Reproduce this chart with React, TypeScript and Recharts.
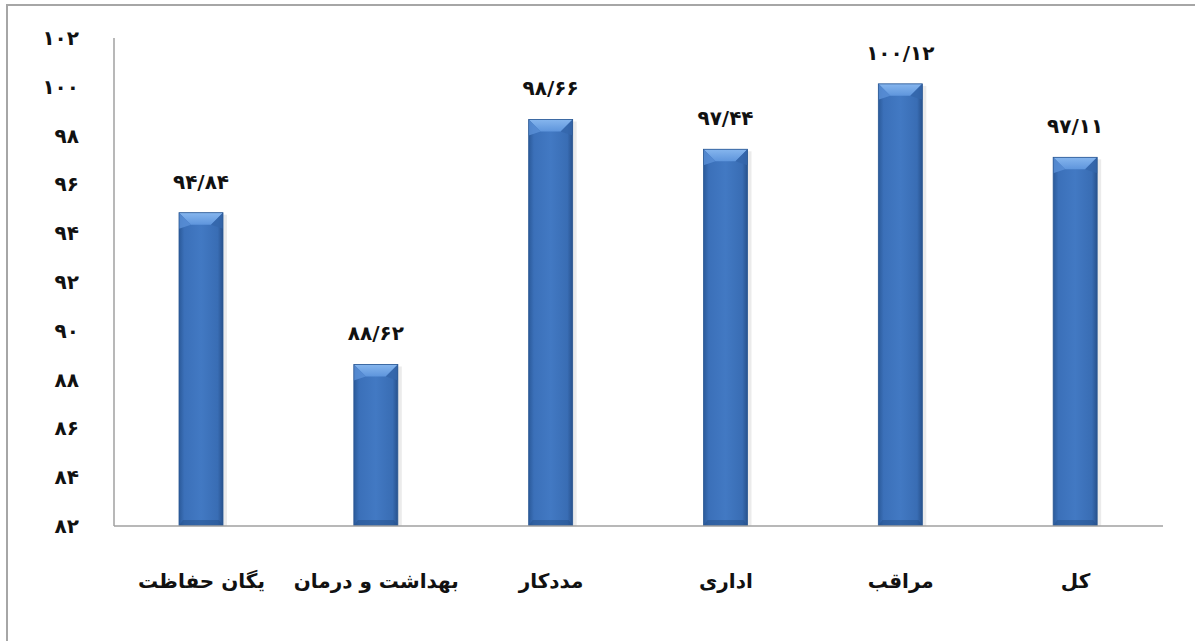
import React from 'react';
import { BarChart, Bar, XAxis, YAxis, LabelList } from 'recharts';

const categories = ['یگان حفاظت', 'بهداشت و درمان', 'مددکار', 'اداری', 'مراقب', 'کل'];
const values = [94.84, 88.62, 98.66, 97.44, 100.12, 97.11];
const yTicks = [82, 84, 86, 88, 90, 92, 94, 96, 98, 100, 102];

const data = categories.map((name, i) => ({ name, value: values[i] }));

const FONT = '"DejaVu Sans", sans-serif';
const AXIS = '#a0a0a0';

const faDigits = (s: string) => s.replace(/[0-9]/g, (d) => '۰۱۲۳۴۵۶۷۸۹'[Number(d)]);
const faNum = (v: number) => faDigits(v.toFixed(2).replace('.', '/'));

function BevelBar(props: any) {
  const { x, y, width, height } = props;
  if (!height || height <= 0) return null;
  const b = 12;
  return (
    <g>
      <rect x={x + 2} y={y + 2} width={width + 2} height={height - 2} fill="#000" opacity={0.08} />
      <rect x={x} y={y} width={width} height={height} fill="url(#barGrad)" />
      {/* top bevel */}
      <polygon points={`${x},${y} ${x + width},${y} ${x + width - b},${y + b} ${x + b},${y + b}`} fill="url(#topGrad)" />
      <polygon points={`${x},${y} ${x + b},${y + b} ${x},${y + b + 4}`} fill="#5b91d8" opacity={0.8} />
      <polygon points={`${x + width},${y} ${x + width - b},${y + b} ${x + width},${y + b + 4}`} fill="#3567ab" opacity={0.8} />
      {/* bottom bevel */}
      <polygon
        points={`${x + 4},${y + height - 6} ${x + width - 4},${y + height - 6} ${x + width},${y + height} ${x},${y + height}`}
        fill="#24508a"
        opacity={0.5}
      />
      <rect x={x} y={y} width={width} height={height} fill="none" stroke="#2a5793" strokeWidth={0.8} />
    </g>
  );
}

function YTick(props: any) {
  const { x, y, payload } = props;
  return (
    <text x={x - 27} y={y} dy={7} textAnchor="end" fontFamily={FONT} fontSize={20} fontWeight="bold" fill="#111">
      {faDigits(String(payload.value))}
    </text>
  );
}

function XTick(props: any) {
  const { x, y, payload } = props;
  return (
    <text x={x} y={y + 46} dy={8} textAnchor="middle" direction="rtl" fontFamily={FONT} fontSize={20} fontWeight="bold" fill="#111">
      {payload.value}
    </text>
  );
}

function ValueLabel(props: any) {
  const { x, y, width, value } = props;
  return (
    <text x={x + width / 2} y={y - 32} dy={8} textAnchor="middle" fontFamily={FONT} fontSize={20} fontWeight="bold" fill="#111">
      {faNum(value)}
    </text>
  );
}

export default function App() {
  return (
    <div style={{ position: 'absolute', left: 0, top: 0, width: 1195, height: 641, background: '#fff', overflow: 'hidden' }}>
      <div
        style={{
          position: 'absolute',
          left: 6,
          top: 4,
          right: -10,
          bottom: -10,
          borderTop: '2px solid #a6a6a6',
          borderLeft: '2px solid #a6a6a6',
        }}
      />
      <BarChart
        width={1195}
        height={641}
        data={data}
        margin={{ top: 38, right: 32, bottom: 85, left: 0 }}
        barCategoryGap={0}
        style={{ position: 'absolute', left: 0, top: 0 }}
      >
        <defs>
          <linearGradient id="barGrad" x1="0" y1="0" x2="1" y2="0">
            <stop offset="0%" stopColor="#2b5a9a" />
            <stop offset="12%" stopColor="#3b70b9" />
            <stop offset="50%" stopColor="#4279c3" />
            <stop offset="88%" stopColor="#396db4" />
            <stop offset="100%" stopColor="#28528d" />
          </linearGradient>
          <linearGradient id="topGrad" x1="0" y1="0" x2="0" y2="1">
            <stop offset="0%" stopColor="#86b6ee" />
            <stop offset="100%" stopColor="#5e95dc" />
          </linearGradient>
        </defs>
        <XAxis
          dataKey="name"
          axisLine={{ stroke: AXIS, strokeWidth: 1.5 }}
          tickLine={false}
          tick={<XTick />}
          interval={0}
        />
        <YAxis
          width={114}
          domain={[82, 102]}
          ticks={yTicks}
          interval={0}
          allowDataOverflow
          axisLine={{ stroke: AXIS, strokeWidth: 1.5 }}
          tickLine={false}
          tick={<YTick />}
        />
        <Bar dataKey="value" barSize={44} shape={<BevelBar />} isAnimationActive={false}>
          <LabelList dataKey="value" content={<ValueLabel />} />
        </Bar>
      </BarChart>
    </div>
  );
}
